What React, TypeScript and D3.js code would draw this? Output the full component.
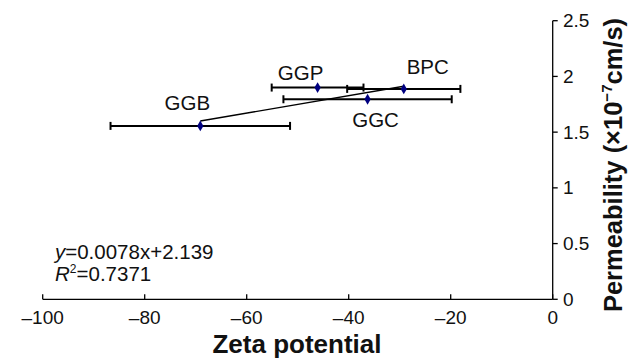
import * as d3 from "d3";

const names = ["GGB", "GGP", "GGC", "BPC"];
const zeta = [-69.1, -46.1, -36.3, -29.2];
const zetaErr = [17.6, 9.0, 16.5, 11.1];
const permeability = [1.556, 1.9, 1.795, 1.888];
const xTicks = [-100, -80, -60, -40, -20, 0];
const yTicks = [0, 0.5, 1, 1.5, 2, 2.5];
const slope = 0.0078;
const intercept = 2.139;
const rSquared = "0.7371";

// label offsets from each point, in px
const labelOffsets: [number, number][] = [
  [-13, -16],
  [-17, -8],
  [8, 28],
  [24, -15],
];

const W = 631;
const H = 360;
const font = "Arial, 'Liberation Sans', sans-serif";
const fmtX = (v: number) => (v < 0 ? `\u2013${Math.abs(v)}` : `${v}`);

export default function App() {
  const x = d3.scaleLinear().domain([-100, 0]).range([42.7, 552.7]);
  const y = d3.scaleLinear().domain([0, 2.5]).range([299.3, 20.7]);
  const diamond = d3.symbol().type(d3.symbolDiamond).size(34)() ?? "";

  const xMin = d3.min(zeta) ?? 0;
  const xMax = d3.max(zeta) ?? 0;
  const trend = d3.line<number>()
    .x((v) => x(v))
    .y((v) => y(slope * v + intercept))([xMin, xMax]) ?? "";

  const x0 = x(0);
  const yBase = y(0);

  return (
    <svg
      width={W}
      height={H}
      style={{ position: "absolute", left: 0, top: 0, background: "#fff" }}
      fontFamily={font}
    >
      {/* x axis */}
      <line x1={x(-100)} x2={x0} y1={yBase} y2={yBase} stroke="#000" strokeWidth={1.3} />
      {xTicks.map((t) => (
        <g key={t}>
          <line x1={x(t)} x2={x(t)} y1={yBase} y2={yBase - 5} stroke="#000" strokeWidth={1.3} />
          <text x={x(t)} y={324} fontSize={19} textAnchor="middle" fill="#111">
            {fmtX(t)}
          </text>
        </g>
      ))}
      {/* y axis */}
      <line x1={x0} x2={x0} y1={y(0)} y2={y(2.5)} stroke="#000" strokeWidth={1.3} />
      {yTicks.map((t) => (
        <g key={t}>
          <line x1={x0} x2={x0 + 5} y1={y(t)} y2={y(t)} stroke="#000" strokeWidth={1.3} />
          <text x={563} y={y(t)} fontSize={19} dominantBaseline="central" fill="#111">
            {t}
          </text>
        </g>
      ))}

      {/* error bars */}
      {names.map((n, i) => {
        const cy = y(permeability[i]);
        const l = x(zeta[i] - zetaErr[i]);
        const r = x(zeta[i] + zetaErr[i]);
        return (
          <g key={n} stroke="#000" strokeWidth={2}>
            <line x1={l} x2={r} y1={cy} y2={cy} />
            <line x1={l} x2={l} y1={cy - 4} y2={cy + 4} />
            <line x1={r} x2={r} y1={cy - 4} y2={cy + 4} />
          </g>
        );
      })}

      {/* trend line */}
      <path d={trend} fill="none" stroke="#000" strokeWidth={1.4} />

      {/* points and labels */}
      {names.map((n, i) => {
        const px = x(zeta[i]);
        const py = y(permeability[i]);
        const [dx, dy] = labelOffsets[i];
        return (
          <g key={n}>
            <path d={diamond} transform={`translate(${px},${py})`} fill="#000080" />
            <text x={px + dx} y={py + dy} fontSize={20.5} textAnchor="middle" fill="#111">
              {n}
            </text>
          </g>
        );
      })}

      {/* equation */}
      <text x={55} y={259} fontSize={20.5} fill="#111">
        <tspan fontStyle="italic">y</tspan>=0.0078x+2.139
      </text>
      <text x={55} y={281} fontSize={20.5} fill="#111">
        <tspan fontStyle="italic">R</tspan>
        <tspan fontSize={12} dy={-8}>2</tspan>
        <tspan dy={8}>={rSquared}</tspan>
      </text>

      {/* axis titles */}
      <text x={297} y={353} fontSize={26} fontWeight="bold" textAnchor="middle" fill="#111">
        Zeta potential
      </text>
      <text
        transform="translate(622,165) rotate(-90)"
        fontSize={25.5}
        fontWeight="bold"
        textAnchor="middle"
        fill="#111"
      >
        Permeability (×10
        <tspan fontSize={15} dy={-10}>−7</tspan>
        <tspan dy={10}>cm/s)</tspan>
      </text>
    </svg>
  );
}
